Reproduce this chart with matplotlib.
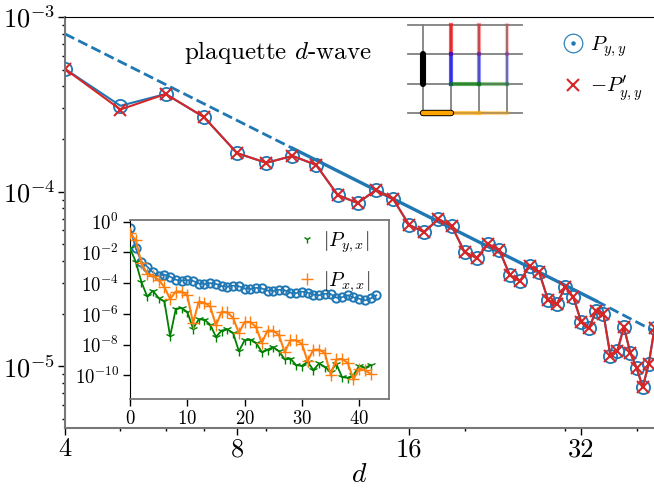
import numpy as np
import matplotlib
matplotlib.use('Agg')
import matplotlib.pyplot as plt
from matplotlib.lines import Line2D
from matplotlib.ticker import FixedLocator, FixedFormatter, NullFormatter, LogLocator

plt.rcParams['mathtext.fontset'] = 'cm'
plt.rcParams['font.family'] = ['cmr10', 'DejaVu Sans']
plt.rcParams['axes.formatter.use_mathtext'] = True
plt.rcParams['axes.unicode_minus'] = False

BLUE = '#1f77b4'
RED = '#d62728'
GREEN = 'green'
ORANGE = '#ff7f0e'
SPINE = '#777777'

# main panel, d = 4..43
d_main = np.arange(4, 44)
p_yy = [5.04e-4, 3.10e-4, 3.62e-4, 2.67e-4, 1.66e-4, 1.46e-4, 1.60e-4, 1.42e-4, 9.55e-5, 8.59e-5,
        1.02e-4, 9.06e-5, 6.43e-5, 5.86e-5, 6.95e-5, 6.34e-5, 4.50e-5, 4.16e-5, 5.00e-5, 4.62e-5,
        3.32e-5, 3.07e-5, 3.74e-5, 3.46e-5, 2.39e-5, 2.26e-5, 2.84e-5, 2.48e-5, 1.79e-5, 1.65e-5,
        2.07e-5, 1.99e-5, 1.14e-5, 1.22e-5, 1.67e-5, 1.19e-5, 9.75e-6, 7.58e-6, 1.03e-5, 1.65e-5]
p_yy_prime = list(p_yy)
p_yy_prime[1] = 2.95e-4

# power law fit, ends only
fit_d_left = [4, 10]
fit_p_left = [8.0e-4, 1.77e-4]
fit_d_mid = [10, 34]
fit_p_mid = [1.77e-4, 2.36e-5]
fit_d_right = [34, 43]
fit_p_right = [2.36e-5, 1.58e-5]

x_ticks = [4, 8, 16, 32]
x_minor = [5, 6, 7, 9, 20, 30, 40]

# inset, log10 of the correlators
d_inset = np.arange(0, 43)
log_yy_start = [-0.39, -1.73, -2.6, -2.92]
log_yx = [-1.73, -2.6, -3.93, -4.86, -4.49, -4.97, -5.18, -7.45, -5.66, -5.62, -5.87,
          -6.95, -6.35, -6.37, -6.7, -7.49, -7.08, -7.0, -7.24, -8.42, -7.71, -7.67,
          -7.88, -8.47, -8.32, -8.16, -8.42, -8.96, -8.9, -9.33, -9.37, -9.11, -9.65,
          -9.22, -9.44, -9.76, -9.24, -10.1, -10.15, -9.98, -9.37, -9.5, -9.33]
log_xx = [-0.76, -1.19, -2.7, -3.39, -3.52, -3.78, -4.25, -5.03, -4.54, -4.54, -4.79,
          -6.59, -5.2, -5.27, -5.51, -6.74, -5.85, -5.9, -6.26, -7.24, -6.52, -6.52,
          -6.85, -7.88, -7.08, -7.08, -7.39, -8.49, -7.71, -7.71, -7.95, -9.07, -8.32,
          -8.32, -8.53, -9.94, -8.96, -8.92, -9.18, -10.26, -9.55, -9.65, -9.89]
inset_x_ticks = [0, 10, 20, 30, 40]
inset_y_ticks = [1e0, 1e-2, 1e-4, 1e-6, 1e-8, 1e-10]

W, H = 654, 492


def px_axes(fig, left, top, right, bottom):
    return fig.add_axes([left / W, 1 - bottom / H, (right - left) / W, (bottom - top) / H])


fig = plt.figure(figsize=(W / 100, H / 100), dpi=100)
ax = px_axes(fig, 65, 17, 654, 428)

ax.plot(fit_d_left, fit_p_left, '--', color=BLUE, lw=2)
ax.plot(fit_d_mid, fit_p_mid, '-', color=BLUE, lw=2.4)
ax.plot(fit_d_right, fit_p_right, '--', color=BLUE, lw=2)
ax.plot(d_main, p_yy, '-', color=BLUE, lw=1.5, marker='o', ms=9.5, mfc='none', mew=1.3)
ax.plot(d_main, p_yy_prime, '-', color=RED, lw=1.5, marker='x', ms=8.5, mew=1.5)

ax.set_xscale('log')
ax.set_yscale('log')
ax.set_xlim(4, 42.9)
ax.set_ylim(10 ** -5.355, 1e-3)
ax.xaxis.set_major_locator(FixedLocator(x_ticks))
ax.xaxis.set_major_formatter(FixedFormatter([str(t) for t in x_ticks]))
ax.xaxis.set_minor_locator(FixedLocator(x_minor))
ax.xaxis.set_minor_formatter(NullFormatter())
ax.yaxis.set_major_locator(FixedLocator([1e-3, 1e-4, 1e-5]))
ax.yaxis.set_minor_locator(LogLocator(base=10, subs=np.arange(2, 10), numticks=20))
ax.yaxis.set_minor_formatter(NullFormatter())
ax.tick_params(which='major', labelsize=19, length=5, width=1, pad=2)
ax.tick_params(which='minor', length=2, width=1)
ax.set_xlabel('$d$', fontsize=20, labelpad=0)
ax.spines['right'].set_visible(False)
ax.spines['left'].set_color(SPINE)
ax.spines['left'].set_linewidth(1.5)
ax.spines['bottom'].set_color(SPINE)
ax.spines['bottom'].set_linewidth(1.5)
ax.text(184, H - 52, 'plaquette $d$-wave', transform=None, fontsize=18, va='center')

# legend for main panel
l1 = Line2D([], [], ls='none', color=BLUE, marker='$\\odot$', ms=14, mew=0.2, label='$P_{y,y}$')
l2 = Line2D([], [], ls='none', color=RED, marker='x', ms=8, mew=1.5, label="$-P^{\\prime}_{y,y}$")
ax.legend(handles=[l1, l2], loc='upper left', frameon=False, fontsize=15, handlelength=1,
          handletextpad=0.3, borderpad=0, borderaxespad=0, labelspacing=0.7,
          bbox_to_anchor=(563 / W, 1 - 34 / H), bbox_transform=fig.transFigure)

# inset
axi = px_axes(fig, 130, 220, 389, 399)
axi.plot(np.arange(0, 44), np.concatenate([np.power(10.0, log_yy_start), p_yy]), '-', color=BLUE,
         lw=1.2, marker='o', ms=6, mfc='none', mew=1.4, zorder=2)
axi.plot(d_inset, np.power(10.0, log_yx), '-', color=GREEN, lw=1.3, marker='1', ms=7, zorder=3)
axi.plot(d_inset, np.power(10.0, log_xx), '-', color=ORANGE, lw=1.5, marker='+', ms=8, zorder=4)
axi.set_yscale('log')
axi.set_xlim(0, 45.2)
axi.set_ylim(10 ** -11.53, 10 ** 0.11)
axi.set_xticks(inset_x_ticks)
axi.set_yticks(inset_y_ticks)
axi.yaxis.set_minor_locator(plt.NullLocator())
axi.tick_params(labelsize=13.5, length=5, width=1, pad=3)
for side in ['top', 'right', 'bottom']:
    axi.spines[side].set_color(SPINE)
    axi.spines[side].set_linewidth(1.3)
h1 = Line2D([], [], ls='none', color=GREEN, marker='1', ms=6, label='$|P_{y,x}|$')
h2 = Line2D([], [], ls='none', color=ORANGE, marker='+', ms=8, label='$|P_{x,x}|$')
axi.legend(handles=[h1, h2], loc='upper left', frameon=False, fontsize=14.5, handlelength=1,
           handletextpad=0.3, borderpad=0, borderaxespad=0, labelspacing=0.7,
           bbox_to_anchor=(297 / W, 1 - 229 / H), bbox_transform=fig.transFigure)

# lattice sketch
sk = px_axes(fig, 408, 24.7, 522, 113)
sk.set_xlim(-0.53, 3.54)
sk.set_ylim(3, 0)
sk.axis('off')
rows = [0, 1, 2, 3]
cols = [0, 1, 2, 3]
fades = [0.65, 0.42, 0.22]
for r in rows:
    sk.plot([-0.53, 3.54], [r, r], color='gray', lw=1.3, clip_on=False, zorder=1)
for c in cols:
    sk.plot([c, c], [0, 3], color='gray', lw=1.3, clip_on=False, zorder=1)
sk.plot([0, 0], [1, 2], color='black', lw=4.4, solid_capstyle='round', zorder=3)
sk.plot([0, 1], [3, 3], color='black', lw=4.6, solid_capstyle='round', zorder=3, clip_on=False)
sk.plot([0, 1], [3, 3], color='orange', lw=3.2, solid_capstyle='round', zorder=4, clip_on=False)
for c, a in zip(cols[1:], fades):
    sk.plot([c, c], [0, 1], color='red', lw=3, alpha=a, clip_on=False, zorder=2)
    sk.plot([c, c], [1, 2], color='blue', lw=3, alpha=a, clip_on=False, zorder=2)
for c, a in zip(cols[1:3], fades):
    sk.plot([c, c + 1], [2, 2], color='green', lw=3, alpha=a, clip_on=False, zorder=2)
    sk.plot([c, c + 1], [3, 3], color='orange', lw=3, alpha=a, clip_on=False, zorder=2)

fig.savefig('out.png', dpi=100)
